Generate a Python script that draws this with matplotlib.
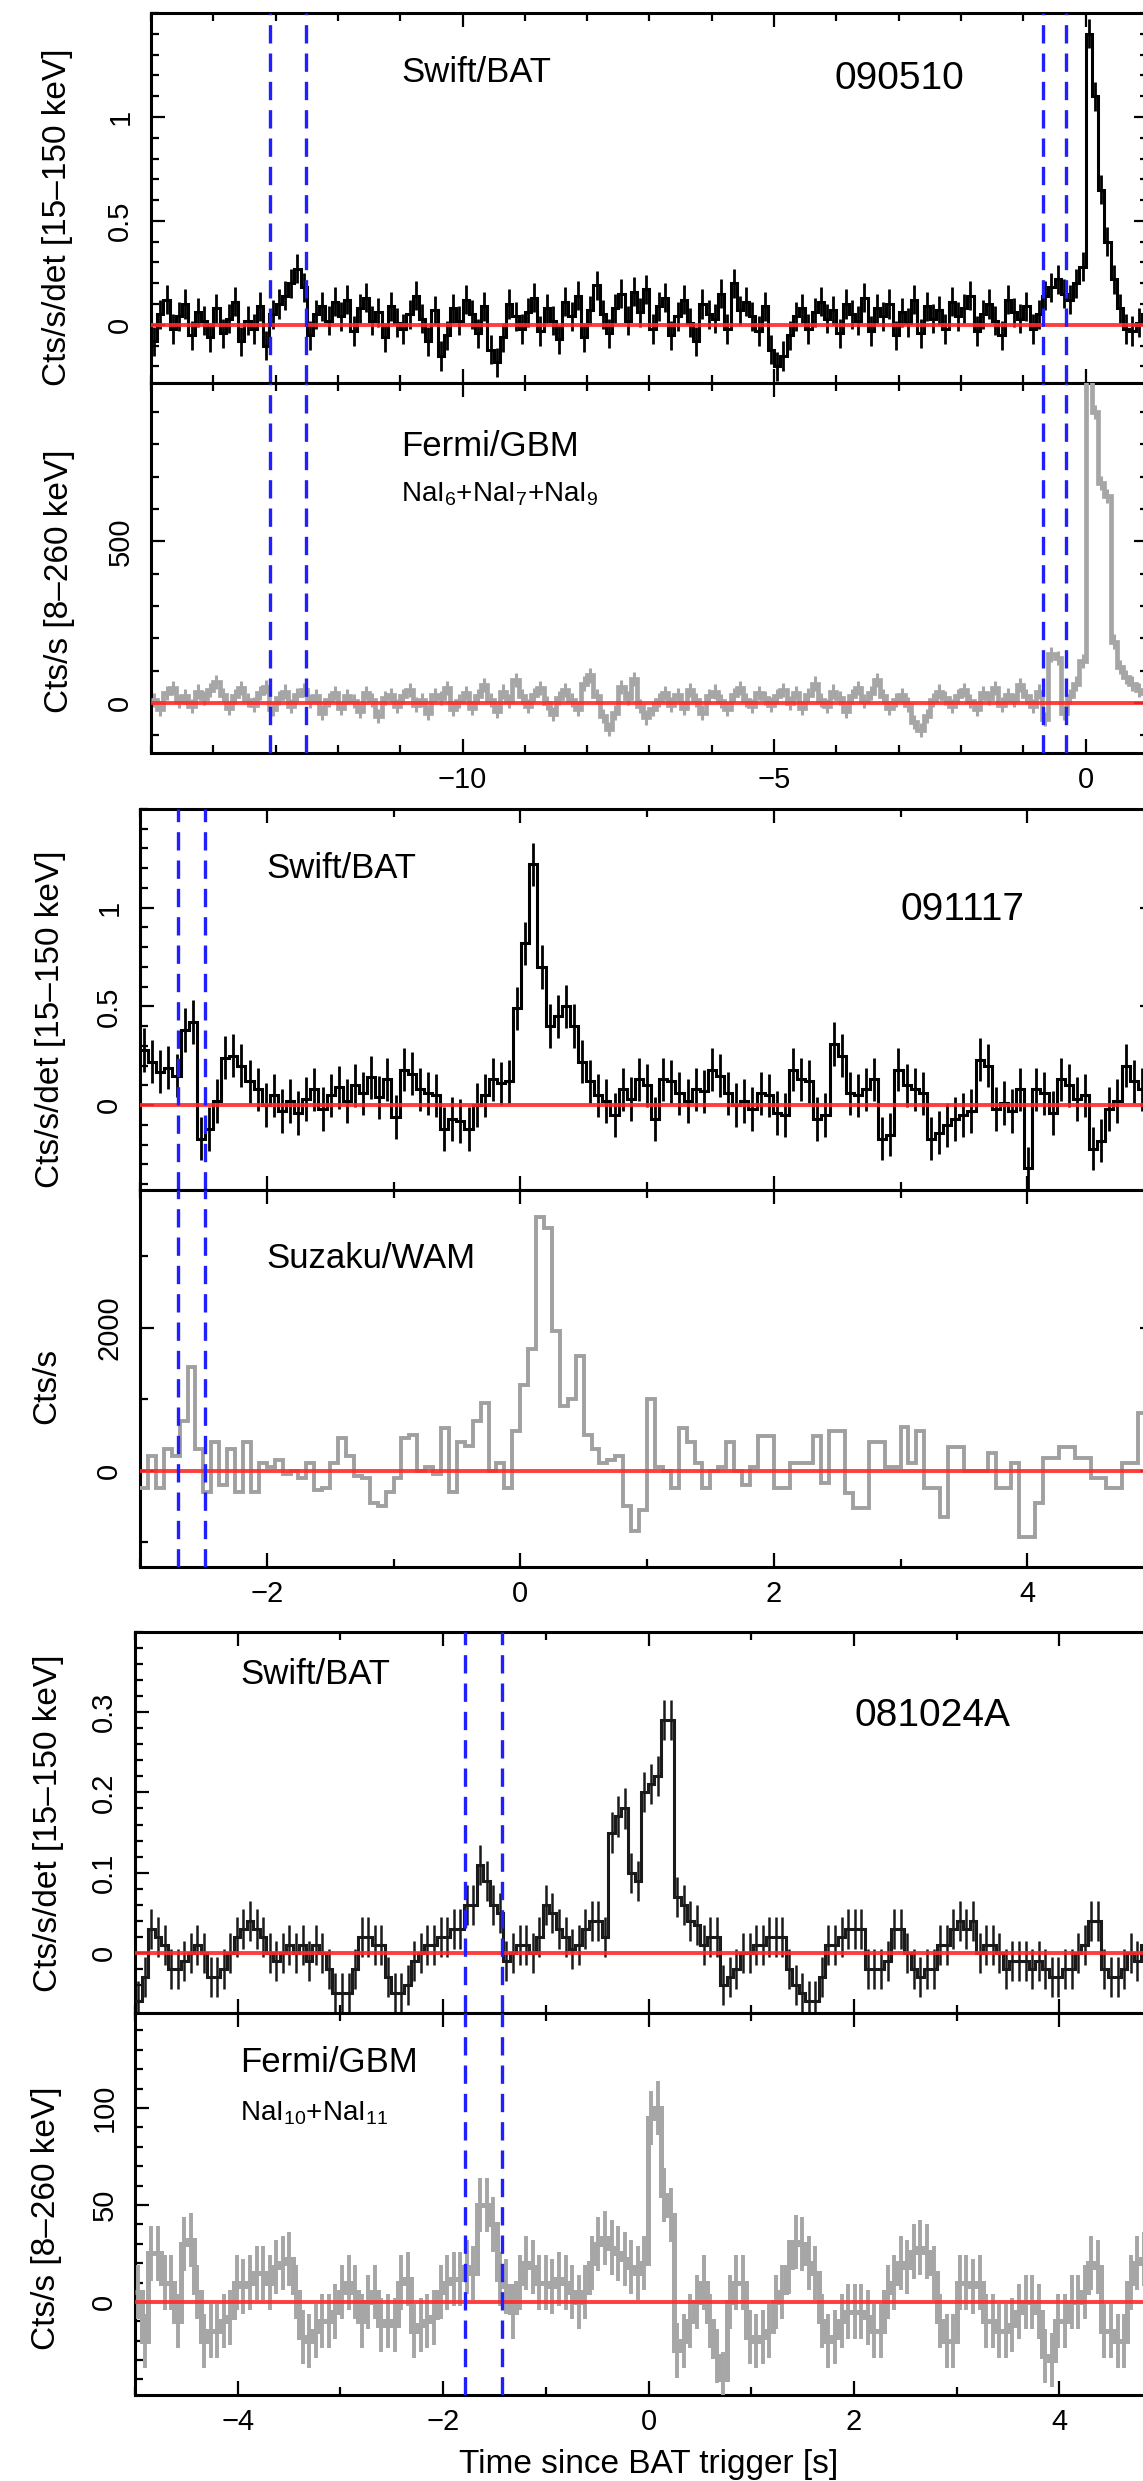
import numpy as np
import matplotlib
matplotlib.use("Agg")
import matplotlib.pyplot as plt
from matplotlib.ticker import MultipleLocator, FixedLocator, FuncFormatter

plt.rcParams['font.family'] = ['Liberation Sans', 'DejaVu Sans']
plt.rcParams['mathtext.default'] = 'regular'

# ---------------- data: GRB 090510 ----------------
bat_090510_t0, bat_090510_dt = -15.0, 0.1
bat_090510 = [
    -0.08, 0.05, 0.12, -0.02, 0.04, 0.10, -0.05, 0.06, 0.02, -0.06,
    0.08, -0.04, 0.03, 0.11, -0.08, 0.02, -0.02, 0.09, -0.10, 0.05,
    0.10, 0.14, 0.20, 0.27, 0.18, -0.05, 0.05, 0.09, 0.02, 0.11,
    0.04, 0.12, -0.03, 0.08, 0.13, 0.02, 0.06, -0.06, 0.09, 0.01,
    -0.02, 0.05, 0.14, 0.03, -0.08, 0.07, -0.15, -0.05, 0.08, 0.02,
    0.12, 0.05, -0.04, 0.09, -0.12, -0.18, -0.06, 0.10, 0.04, -0.02,
    0.06, 0.13, -0.03, 0.08, 0.02, -0.07, 0.11, 0.04, 0.14, -0.06,
    0.07, 0.19, 0.05, -0.04, 0.08, 0.15, 0.02, 0.16, 0.06, 0.17,
    -0.02, 0.09, 0.13, -0.05, 0.04, 0.12, 0.01, -0.08, 0.10, 0.05,
    0.03, 0.15, -0.02, 0.20, 0.07, 0.11, 0.04, -0.03, 0.09, -0.12,
    -0.20, -0.15, -0.05, 0.04, 0.08, -0.02, 0.06, 0.11, 0.03, 0.07,
    -0.04, 0.10, 0.05, 0.02, 0.13, -0.03, 0.08, 0.04, 0.10, -0.05,
    0.06, 0.01, 0.12, -0.04, 0.09, 0.03, 0.07, -0.02, 0.11, 0.04,
    0.08, 0.14, -0.03, 0.05, 0.10, 0.02, -0.05, 0.12, 0.06, 0.03,
    0.09, -0.02, 0.05, 0.14, 0.18, 0.22, 0.15, 0.12, 0.20, 0.28,
    1.40, 1.10, 0.65, 0.40, 0.22, 0.08, -0.02, -0.03, 0.01, 0.05,
]
bat_090510_err = 0.07

gbm_090510_t0, gbm_090510_dt = -15.0, 0.1
gbm_090510 = [
    10, -20, 30, 45, 5, 20, -10, 35, 15, 40,
    65, 25, -15, 20, 45, 10, -5, 30, 50, -20,
    15, 35, -10, 25, 40, 5, 20, -30, 10, 30,
    -15, 20, 5, -25, 30, 10, -40, 15, 25, -10,
    20, 40, -5, 10, -30, 25, 15, 45, -20, 5,
    30, -15, 20, 55, 10, -25, 35, 5, 70, 20,
    -10, 25, 45, 0, -35, 15, 40, 10, -20, 60,
    85, 20, -40, -80, -30, 50, 15, 75, -10, -45,
    -20, 10, 30, -5, 25, -15, 40, 10, -30, 20,
    35, 5, -20, 25, 45, 10, -10, 30, 15, -5,
    20, 40, 0, 30, -15, 25, 60, 10, -10, 35,
    15, -25, 20, 45, 5, 30, 70, 20, -15, 10,
    25, -5, -60, -85, -40, 10, 35, 15, -10, 20,
    40, 5, -20, 30, 15, 45, -5, 25, 10, 55,
    20, -10, 35, -50, 150, 140, -30, 20, 60, 130,
    1050, 900, 680, 640, 190, 110, 80, 60, 40, 30,
]
gbm_090510_err = 22
marks_090510 = [-13.09, -12.52, -0.68, -0.32]

# ---------------- data: GRB 091117 ----------------
bat_091117_t0, bat_091117_dt = -3.0, 0.064
bat_091117 = [
    0.28, 0.22, 0.17, 0.19, 0.15, 0.38, 0.42, -0.17, -0.12, 0.02,
    0.24, 0.25, 0.20, 0.12, 0.08, 0.00, 0.05, -0.03, 0.02, -0.04,
    0.03, 0.08, -0.02, 0.05, 0.09, 0.02, 0.10, 0.06, 0.14, 0.04,
    0.13, -0.06, 0.18, 0.16, 0.08, 0.06, 0.05, -0.12, -0.07, -0.08,
    -0.12, 0.00, 0.05, 0.13, 0.11, 0.12, 0.49, 0.82, 1.22, 0.70,
    0.40, 0.45, 0.50, 0.40, 0.22, 0.12, 0.05, 0.02, -0.05, 0.08,
    0.03, 0.13, 0.10, -0.07, 0.13, 0.12, 0.06, 0.02, 0.08, 0.07,
    0.18, 0.15, 0.06, 0.00, 0.02, -0.02, 0.06, 0.05, -0.04, -0.05,
    0.18, 0.13, 0.12, -0.07, -0.05, 0.31, 0.25, 0.06, 0.05, 0.08,
    0.13, -0.17, -0.15, 0.18, 0.10, 0.08, 0.06, -0.17, -0.14, -0.10,
    -0.07, -0.05, -0.03, 0.23, 0.20, -0.02, 0.01, -0.03, 0.08, -0.32,
    0.08, 0.06, -0.04, 0.13, 0.10, 0.03, 0.05, -0.22, -0.18, -0.02,
    0.02, 0.20, 0.12, 0.08, 0.03,
]
bat_091117_err = 0.11

wam_091117_t0, wam_091117_dt = -3.0, 0.0625
wam_091117 = [
    -250, 200, -250, 300, 200, 700, 1450, 300, -300, 400,
    -200, 300, -300, 400, -300, 100, 50, 150, -50, 0,
    -100, 100, -270, -250, 100, 460, 200, -70, -100, -450,
    -500, -300, -100, 450, 500, 0, 50, -50, 600, -300,
    400, 350, 700, 950, 0, 100, -250, 550, 1200, 1700,
    3550, 3400, 1950, 900, 1000, 1600, 500, 300, 100, 150,
    200, -500, -850, -550, 1000, 50, 0, -250, 600, 400,
    100, -250, 0, 50, 400, 0, -200, 50, 480, 480,
    -240, -240, 110, 110, 110, 480, -170, 550, 550, -310,
    -520, -520, 400, 400, 50, 50, 610, 110, 550, -240,
    -240, -650, 330, 330, 0, 0, 0, 250, -240, -240,
    110, -930, -930, -450, 180, 180, 330, 330, 180, 180,
    -100, -100, -240, -240, 110, 110, 800, 800,
]
marks_091117 = [-2.70, -2.49]

# ---------------- data: GRB 081024A ----------------
bat_081024_t0, bat_081024_dt = -5.0, 0.064
bat_081024 = [
    -0.06, -0.03, 0.03, 0.02, 0.01, -0.02, -0.02, -0.01, 0.00, 0.01,
    0.00, -0.03, -0.03, -0.02, 0.00, 0.02, 0.03, 0.04, 0.03, 0.02,
    0.00, -0.01, 0.00, 0.01, 0.00, 0.01, -0.01, 0.01, 0.00, -0.02,
    -0.05, -0.05, -0.05, -0.02, 0.02, 0.02, 0.01, 0.01, -0.03, -0.05,
    -0.05, -0.04, -0.01, 0.00, 0.01, 0.01, 0.02, 0.02, 0.03, 0.03,
    0.06, 0.06, 0.11, 0.09, 0.06, 0.05, -0.01, 0.00, 0.01, 0.01,
    0.00, 0.02, 0.06, 0.05, 0.03, 0.02, 0.005, 0.01, 0.03, 0.04,
    0.04, 0.02, 0.15, 0.17, 0.18, 0.10, 0.09, 0.20, 0.21, 0.22,
    0.29, 0.29, 0.07, 0.06, 0.04, 0.035, 0.01, 0.02, 0.02, -0.04,
    -0.03, -0.02, 0.00, 0.00, 0.01, 0.01, 0.02, 0.02, 0.02, -0.02,
    -0.04, -0.05, -0.06, -0.06, -0.03, 0.01, 0.01, 0.02, 0.03, 0.03,
    0.03, -0.02, -0.02, -0.02, -0.01, 0.03, 0.03, 0.00, -0.02, -0.03,
    -0.02, -0.02, 0.01, 0.01, 0.03, 0.04, 0.03, 0.04, 0.00, 0.01,
    0.01, 0.00, -0.02, -0.01, -0.01, -0.01, -0.02, -0.01, -0.02, -0.03,
    -0.03, -0.02, -0.02, 0.00, 0.01, 0.04, 0.04, -0.02, -0.03, -0.03,
    -0.02, 0.00, -0.01, 0.01, 0.02, 0.00,
]
bat_081024_err = 0.025

gbm_081024_t0, gbm_081024_dt = -5.0, 0.064
gbm_081024 = [
    5, -20, 25, 25, 10, 10, -10, 30, 32, 5,
    -20, -15, -15, -10, -8, 10, 8, 10, 15, 15,
    10, 18, 20, 22, 5, -18, -20, -15, -10, -10,
    -5, 5, 10, 5, -10, 0, 5, -12, -10, -12,
    10, 12, -15, -12, -10, -8, 5, 10, 12, 12,
    18, 15, 50, 50, 40, 12, 8, -5, 10, 20,
    18, 10, 10, 8, 12, 10, 5, 0, 5, 20,
    30, 33, 28, 25, 22, 18, 15, 20, 95, 100,
    55, 45, -25, -20, -10, 0, 10, -10, -28, -40,
    0, 10, 10, -18, -20, -18, -15, 0, 5, 18,
    31, 30, 20, 15, -10, -20, -18, -10, -5, -5,
    -5, -8, -15, -15, 5, 10, 20, 18, 26, 28,
    26, 15, -10, -20, -20, 10, 10, 8, 10, -10,
    -10, -15, -15, -12, -5, 0, 0, -5, -28, -30,
    -10, -10, 0, 0, 5, 20, 18, -15, -15, -20,
    -20, 10, 20, 22, 10, 5,
]
gbm_081024_err = 14
marks_081024 = [-1.79, -1.43]

# labelled tick values
xt_090510 = [-10, -5, 0]
xt_short = [-4, -2, 0, 2, 4]
yt_bat_bright = [0, 0.5, 1]
yt_gbm_090510 = [0, 500]
yt_wam = [0, 2000]
yt_bat_081024 = [0, 0.1, 0.2, 0.3]
yt_gbm_081024 = [0, 50, 100]

# ---------------- layout helpers ----------------
W, H = 1143, 2481
fig = plt.figure(figsize=(W / 100, H / 100), dpi=100)


def rect(l, t, r, b):
    return [l / W, 1 - b / H, (r - l) / W, (b - t) / H]


def fmt(v, pos):
    return '%g' % v if abs(v) > 1e-9 else '0'


def style(ax, xlim, ylim, xmaj, xmin, ymaj, ymin, xlabels):
    ax.set_xlim(*xlim)
    ax.set_ylim(*ylim)
    ax.xaxis.set_major_locator(FixedLocator(xmaj))
    ax.xaxis.set_minor_locator(MultipleLocator(xmin))
    ax.yaxis.set_major_locator(FixedLocator(ymaj))
    ax.yaxis.set_minor_locator(MultipleLocator(ymin))
    ax.yaxis.set_major_formatter(FuncFormatter(fmt))
    ax.tick_params(which='both', direction='in', top=True, right=True,
                   width=1.6, colors='black')
    ax.tick_params(which='major', length=10)
    ax.tick_params(which='minor', length=5.5)
    ax.tick_params(axis='y', labelsize=21, labelrotation=90, pad=12)
    ax.tick_params(axis='x', labelsize=21, pad=9, labelbottom=xlabels)
    for lab in ax.get_yticklabels():
        lab.set_va('center')
    for s in ax.spines.values():
        s.set_linewidth(2.2)
    ax.axhline(0, color='#ff2a2a', lw=2.8, alpha=0.9, zorder=5)


def dashes(ax, xs):
    for x in xs:
        ax.axvline(x, color='#1f1fff', lw=2.4, dashes=(5.5, 3.0), zorder=6)


def edges(t0, dt, n):
    return t0 + dt * np.arange(n + 1)


def stepplot(ax, t0, dt, vals, err, color, lw, elw):
    v = np.asarray(vals, dtype=float)
    e = edges(t0, dt, len(v))
    c = 0.5 * (e[:-1] + e[1:])
    if err is not None:
        ax.errorbar(c, v, yerr=err, fmt='none', ecolor=color, elinewidth=elw,
                    capsize=0, zorder=3)
    ax.stairs(v, e, color=color, lw=lw, baseline=None, zorder=4)


def ftext(x, y, s, size, **kw):
    fig.text(x / W, 1 - y / H, s, fontsize=size, va='center', **kw)


# ---------------- group 1: 090510 ----------------
a1 = fig.add_axes(rect(151, 13, 1148, 383))
a2 = fig.add_axes(rect(151, 383, 1148, 753))
stepplot(a1, bat_090510_t0, bat_090510_dt, bat_090510, bat_090510_err, 'black', 2.2, 2.0)
stepplot(a2, gbm_090510_t0, gbm_090510_dt, gbm_090510, gbm_090510_err, '#a6a6a6', 3.4, 2.2)
style(a1, (-15, 1), (-0.28, 1.5), xt_090510, 1, yt_bat_bright, 0.1, False)
style(a2, (-15, 1), (-155, 990), xt_090510, 1, yt_gbm_090510, 100, True)
dashes(a1, marks_090510)
dashes(a2, marks_090510)
ftext(401, 72, 'Swift/BAT', 25, ha='left')
ftext(835, 79, '090510', 28, ha='left')
ftext(401, 446, 'Fermi/GBM', 25, ha='left')
ftext(401, 494, 'NaI$_6$+NaI$_7$+NaI$_9$', 20, ha='left')
ftext(58, 217, 'Cts/s/det [15–150 keV]', 24, ha='center', rotation=90)
ftext(60, 581, 'Cts/s [8–260 keV]', 24, ha='center', rotation=90)

# ---------------- group 2: 091117 ----------------
b1 = fig.add_axes(rect(140, 809, 1154, 1190))
b2 = fig.add_axes(rect(140, 1190, 1154, 1567))
stepplot(b1, bat_091117_t0, bat_091117_dt, bat_091117, bat_091117_err, 'black', 2.2, 2.0)
stepplot(b2, wam_091117_t0, wam_091117_dt, wam_091117, None, '#a0a0a0', 2.8, 1.0)
style(b1, (-3, 5), (-0.43, 1.5), xt_short, 1, yt_bat_bright, 0.1, False)
style(b2, (-3, 5), (-1350, 3930), xt_short, 1, yt_wam, 1000, True)
dashes(b1, marks_091117)
dashes(b2, marks_091117)
ftext(266, 869, 'Swift/BAT', 25, ha='left')
ftext(900, 910, '091117', 28, ha='left')
ftext(266, 1258, 'Suzaku/WAM', 25, ha='left')
ftext(51, 1019, 'Cts/s/det [15–150 keV]', 24, ha='center', rotation=90)
ftext(47, 1386, 'Cts/s', 24, ha='center', rotation=90)

# ---------------- group 3: 081024A ----------------
c1 = fig.add_axes(rect(135, 1632, 1162, 2013))
c2 = fig.add_axes(rect(135, 2013, 1162, 2395))
stepplot(c1, bat_081024_t0, bat_081024_dt, bat_081024, bat_081024_err, '#1a1a1a', 2.2, 1.8)
stepplot(c2, gbm_081024_t0, gbm_081024_dt, gbm_081024, gbm_081024_err, '#a6a6a6', 3.6, 2.8)
style(c1, (-5, 5), (-0.075, 0.40), xt_short, 1, yt_bat_081024, 0.02, False)
style(c2, (-5, 5), (-48, 149), xt_short, 1, yt_gbm_081024, 10, True)
dashes(c1, marks_081024)
dashes(c2, marks_081024)
ftext(240, 1674, 'Swift/BAT', 25, ha='left')
ftext(855, 1716, '081024A', 28, ha='left')
ftext(240, 2063, 'Fermi/GBM', 25, ha='left')
ftext(240, 2113, 'NaI$_{10}$+NaI$_{11}$', 20, ha='left')
ftext(49, 1823, 'Cts/s/det [15–150 keV]', 24, ha='center', rotation=90)
ftext(47, 2218, 'Cts/s [8–260 keV]', 24, ha='center', rotation=90)
ftext(649, 2465, 'Time since BAT trigger [s]', 24, ha='center')

fig.savefig('out.png', dpi=100)
